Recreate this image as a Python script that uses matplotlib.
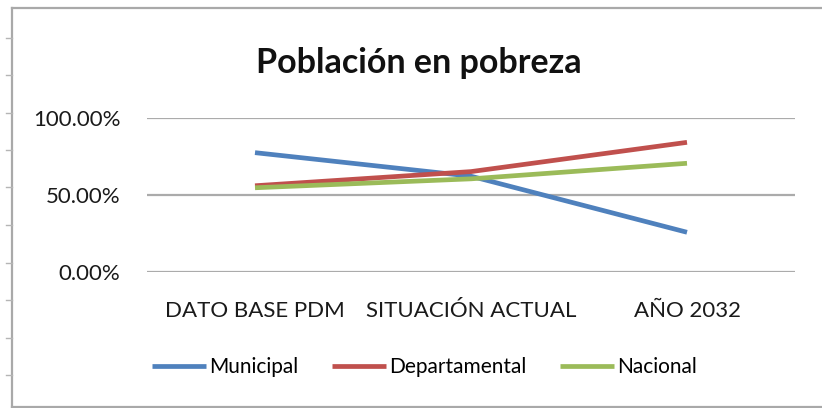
import matplotlib
matplotlib.use("Agg")
import matplotlib.pyplot as plt
from matplotlib.lines import Line2D
from matplotlib.ticker import FuncFormatter

# data
categories = ["DATO BASE PDM", "SITUACIÓN ACTUAL", "AÑO 2032"]
municipal = [0.773, 0.620, 0.256]
departamental = [0.558, 0.650, 0.840]
nacional = [0.545, 0.603, 0.704]
y_ticks = [0.0, 0.5, 1.0]

SERIES = (
    ("Municipal", municipal, "#4F81BD"),
    ("Departamental", departamental, "#C0504D"),
    ("Nacional", nacional, "#9BBB59"),
)

plt.rcParams["font.family"] = ["Lato", "DejaVu Sans"]

W, H = 822, 408
fig = plt.figure(figsize=(W / 100, H / 100), dpi=100)
fig.patch.set_facecolor("white")

# plot area in pixel terms: x 147..795, y 117.7 (100%) .. 271.7 (0%)
ax = fig.add_axes([147 / W, 1 - 271.7 / H, (795 - 147) / W, (271.7 - 117.7) / H])
positions = list(range(len(categories)))
for name, values, color in SERIES:
    ax.plot(positions, values, color=color, linewidth=3.4, label=name,
            solid_capstyle="butt", zorder=3)

ax.set_xlim(-0.5, len(categories) - 0.5)
ax.set_ylim(0, 1)
ax.set_yticks(y_ticks)
ax.yaxis.set_major_formatter(FuncFormatter(lambda v, _: f"{v * 100:.2f}%"))
ax.set_xticks(positions)
ax.set_xticklabels(categories)
ax.tick_params(axis="both", length=0, labelsize=16, colors="#1a1a1a")
ax.tick_params(axis="y", pad=19)
ax.tick_params(axis="x", pad=21)
ax.grid(axis="y", color="#ababab", linewidth=1.6, zorder=1)
for spine in ax.spines.values():
    spine.set_visible(False)

fig.text(0.51, 1 - 73 / H, "Población en pobreza", ha="center", va="baseline",
         fontsize=24.5, fontweight="bold", color="#111111")

handles, labels = ax.get_legend_handles_labels()
fig.legend(handles, labels, loc="center", bbox_to_anchor=(0.5164, 1 - 367 / H),
           ncol=3, frameon=False, fontsize=15, handlelength=2.6,
           handletextpad=0.15, columnspacing=1.6)

# spreadsheet frame around the chart
frame = dict(color="#a9a9a9", linewidth=1.6, transform=fig.transFigure)
fig.add_artist(Line2D([11.5 / W, 1], [1 - 8 / H, 1 - 8 / H], **frame))
fig.add_artist(Line2D([11.5 / W, 11.5 / W], [0, 1 - 8 / H], **frame))
fig.add_artist(Line2D([11.5 / W, 1], [1.5 / H, 1.5 / H], **frame))
for k in range(1, 11):
    y = 1 - 37.5 * k / H
    fig.add_artist(Line2D([6 / W, 11.5 / W], [y, y], color="#b5b5b5",
                          linewidth=1.0, transform=fig.transFigure))

fig.savefig("out.png", dpi=100, facecolor="white")
